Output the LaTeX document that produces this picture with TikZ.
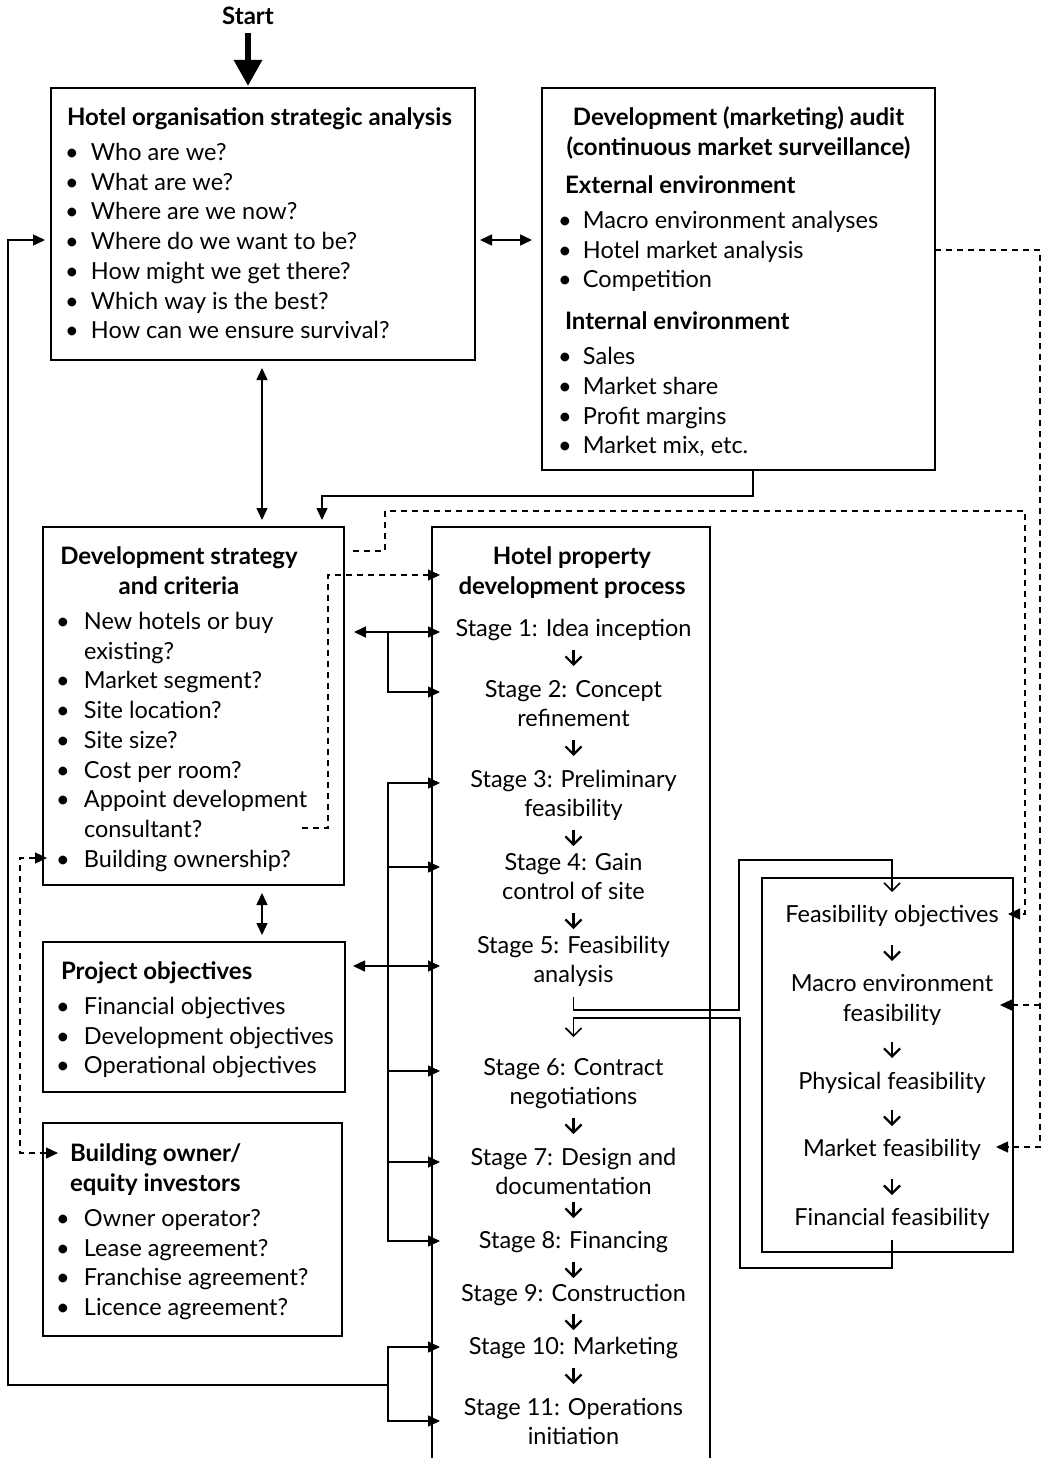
\documentclass[tikz,border=0pt]{standalone}
\usepackage{fontspec}
\setmainfont{Lato}
\usetikzlibrary{arrows.meta,calc}
\newcommand\bl[1][20pt]{\makebox[#1][l]{\makebox[0pt][c]{\textbullet}}}
\newcommand\st{\rule{0pt}{23pt}}
\begin{document}
\begin{tikzpicture}[x=1pt,y=-1pt,
 every node/.style={inner sep=0pt,outer sep=0pt,font=\fontsize{23.5}{29.7}\selectfont},
 bf/.style={font=\fontsize{24}{29.7}\selectfont\bfseries},
 bfw/.style={font=\fontsize{24}{30}\selectfont\bfseries},
 box/.style={draw,line width=1.8pt,anchor=north west},
 ln/.style={line width=1.5pt},
 tip/.style={ln,-{Triangle[length=12pt,width=11pt]}},
 dtip/.style={ln,{Triangle[length=12pt,width=11pt]}-{Triangle[length=12pt,width=11pt]}},
 dsh/.style={line width=1.3pt,dash pattern=on 6pt off 5pt},
 sarr/.style={line width=2.2pt,-{Straight Barb[length=8pt,width=16pt]}},
 toproc/.style={shorten >=-8pt},
 body/.style={align=left,anchor=north west},
 stg/.style={align=center,anchor=north,font=\fontsize{23.5}{29}\selectfont},
 fst/.style={align=center,anchor=north,font=\fontsize{23.5}{30}\selectfont},
]
\useasboundingbox (0,0) rectangle (1043,1458);
\fill[white] (0,0) rectangle (1043,1458);

% ---------- boxes ----------
\node[box,minimum width=424pt,minimum height=272pt] (b1) at (51,88) {};
\node[box,minimum width=393pt,minimum height=382pt] (b2) at (542,88) {};
\node[box,minimum width=301pt,minimum height=358pt] (b3) at (43,527) {};
\node[box,minimum width=302pt,minimum height=150pt] (b4) at (43,942) {};
\node[box,minimum width=299pt,minimum height=213pt] (b5) at (43,1123) {};
\node[box,minimum width=278pt,minimum height=960pt] (proc) at (432,527) {};
\node[box,minimum width=251pt,minimum height=374pt] (fbox) at (762,878) {};

% ---------- start ----------
\node[bf,anchor=base] (start) at (248,25) {Start};
\draw[line width=6pt,-{Triangle[length=26pt,width=27pt]},shorten >=2pt] (start.south) ++(0,8) -- (b1.north -| start.south);

% ---------- box 1 ----------
\node[bf,anchor=base west] (t1) at (67,125.5) {Hotel organisation strategic analysis};
\node[body] (c1) at (72,137.5) {\st\bl[19pt]Who are we?\\
\bl[19pt]What are we?\\
\bl[19pt]Where are we now?\\
\bl[19pt]Where do we want to be?\\
\bl[19pt]How might we get there?\\
\bl[19pt]Which way is the best?\\
\bl[19pt]How can we ensure survival?};

% ---------- box 2 ----------
\node[bfw,align=center,anchor=north] (t2) at (738.5,102.5) {\st Development (marketing) audit\\(continuous market surveillance)};
\node[body] (c2) at (565,170.5) {\st\textbf{\fontsize{24}{29.7}\selectfont External environment}\\[5.3pt]
\bl[18pt]Macro environment analyses\\
\bl[18pt]Hotel market analysis\\
\bl[18pt]Competition\\[12pt]
\textbf{\fontsize{24}{29.7}\selectfont Internal environment}\\[5.3pt]
\bl[18pt]Sales\\
\bl[18pt]Market share\\
\bl[18pt]Profit margins\\
\bl[18pt]Market mix, etc.};

% ---------- box 3 ----------
\node[bfw,align=center,anchor=north] (t3) at (179,541.5) {\st Development strategy\\and criteria};
\node[body] (c3) at (63,606.5) {\st\bl[21pt]New hotels or buy\\
\hspace*{21pt}existing?\\
\bl[21pt]Market segment?\\
\bl[21pt]Site location?\\
\bl[21pt]Site size?\\
\bl[21pt]Cost per room?\\
\bl[21pt]Appoint development\\
\hspace*{21pt}consultant?\\
\bl[21pt]Building ownership?};

% ---------- box 4 ----------
\node[bf,anchor=base west] (t4) at (61,979.5) {Project objectives};
\node[body] (c4) at (63,991.5) {\st\bl[21pt]Financial objectives\\
\bl[21pt]Development objectives\\
\bl[21pt]Operational objectives};

% ---------- box 5 ----------
\node[bfw,align=left,anchor=north west] (t5) at (70,1138.5) {\st Building owner/\\equity investors};
\node[body] (c5) at (63,1203.5) {\st\bl[21pt]Owner operator?\\
\bl[21pt]Lease agreement?\\
\bl[21pt]Franchise agreement?\\
\bl[21pt]Licence agreement?};

% ---------- process ----------
\node[bfw,align=center,anchor=north] (tp) at (572,541.5) {\st Hotel property\\development process};
\node[stg] (s1) at (573.5,613.5) {\st Stage 1: Idea inception};
\node[stg] (s2) at (573.5,674.5) {\st Stage 2: Concept\\refinement};
\node[stg] (s3) at (573.5,764.5) {\st Stage 3: Preliminary\\feasibility};
\node[stg] (s4) at (573.5,847.5) {\st Stage 4: Gain\\control of site};
\node[stg] (s5) at (573.5,930.5) {\st Stage 5: Feasibility\\analysis};
\node[stg] (s6) at (573.5,1052.5) {\st Stage 6: Contract\\negotiations};
\node[stg] (s7) at (573.5,1142.5) {\st Stage 7: Design and\\documentation};
\node[stg] (s8) at (573.5,1225.5) {\st Stage 8: Financing};
\node[stg] (s9) at (573.5,1278.5) {\st Stage 9: Construction};
\node[stg] (s10) at (573.5,1331.5) {\st Stage 10: Marketing};
\node[stg] (s11) at (573.5,1392.5) {\st Stage 11: Operations\\initiation};

\draw[sarr] (s1.north) ++(0,36.5) -- ++(0,16);
\draw[sarr] (s2.north) ++(0,65.5) -- ++(0,16);
\draw[sarr] (s3.north) ++(0,65.5) -- ++(0,16);
\draw[sarr] (s4.north) ++(0,65.5) -- ++(0,16);
\draw[sarr] (s6.north) ++(0,65.5) -- ++(0,16);
\draw[sarr] (s7.north) ++(0,59.5) -- ++(0,16);
\draw[sarr] (s8.north) ++(0,36.5) -- ++(0,16);
\draw[sarr] (s9.north) ++(0,35.5) -- ++(0,16);
\draw[sarr] (s10.north) ++(0,36.5) -- ++(0,16);

% ---------- feasibility ----------
\node[fst] (fobj) at (892,899.5) {\st Feasibility objectives};
\node[fst] (fmac) at (892,968.5) {\st Macro environment\\feasibility};
\node[fst] (fphy) at (892,1066.5) {\st Physical feasibility};
\node[fst] (fmkt) at (892,1133.5) {\st Market feasibility};
\node[fst] (ffin) at (892,1202.5) {\st Financial feasibility};

\draw[sarr] (fobj.north) ++(0,45.5) -- ++(0,16);
\draw[sarr] (fmac.north) ++(0,73.5) -- ++(0,16);
\draw[sarr] (fphy.north) ++(0,43.5) -- ++(0,16);
\draw[sarr] (fmkt.north) ++(0,45.5) -- ++(0,16);

% process <-> feasibility
\draw[sarr,line width=1.6pt,shorten >=7.5pt] (s5.north) ++(0,66.5) |- (739,1010) |- (fobj.north |- 0,860) -- (fobj.north);
\draw[sarr,line width=1.6pt,shorten >=15.5pt] (ffin.north) ++(0,37.5) |- (740,1268) |- (s6.north |- 0,1018) -- (s6.north);

% ---------- solid connectors ----------
\draw[dtip,shorten <=5pt,shorten >=10pt] (b1.east |- 0,240) -- (b2.west |- 0,240);
\draw[dtip,shorten <=8pt,shorten >=7pt] (b1.south -| 262,0) -- (b3.north -| 262,0);
\draw[dtip,shorten <=8pt,shorten >=7pt] (b3.south -| 262,0) -- (b4.north -| 262,0);
\draw[tip,shorten >=7pt] (b2.south -| 753,0) |- (322,496) -- (b3.north -| 322,0);

\coordinate (j1) at (388,632);
\coordinate (j2) at (388,966);
\coordinate (j3) at (388,1385);
\draw[dtip,shorten <=10pt,toproc] (b3.east |- j1) -- (proc.west |- j1);
\draw[tip,toproc] (j1) |- (proc.west |- 0,692);
\draw[dtip,shorten <=8pt,toproc] (b4.east |- j2) -- (proc.west |- j2);
\draw[tip,toproc] (j2) |- (proc.west |- 0,783);
\draw[tip,toproc] (j2) |- (proc.west |- 0,867);
\draw[tip,toproc] (j2) |- (proc.west |- 0,1071);
\draw[tip,toproc] (j2) |- (proc.west |- 0,1162);
\draw[tip,toproc] (j2) |- (proc.west |- 0,1241);
\draw[tip,shorten >=6pt] (j3) -| (8,240) -- (b1.west |- 0,240);
\draw[tip,toproc] (j3) |- (proc.west |- 0,1347);
\draw[tip,toproc] (j3) |- (proc.west |- 0,1421);

% ---------- dashed connectors ----------
\draw[dsh,-{Triangle[length=12pt,width=11pt]},shorten <=9pt,shorten >=-5pt] (b3.east |- 0,551) -| (385,511) -| (1025,914) -- (fbox.east |- 0,914);
\coordinate (dc) at (302,828);
\draw[dsh,-{Triangle[length=12pt,width=11pt]},toproc] (dc) -| (328,575) -- (proc.west |- 0,575);
\coordinate (jd) at (1040,1005);
\draw[dsh,-{Triangle[length=12pt,width=11pt]},shorten >=-17pt] (b2.east |- 0,250) -| (1040,1147) -- (fbox.east |- 0,1147);
\draw[dsh,-{Triangle[length=12pt,width=11pt]},shorten >=-13pt] (jd) -- (fbox.east |- jd);
\draw[dsh,{Triangle[length=12pt,width=11pt]}-{Triangle[length=12pt,width=11pt]},shorten <=-4pt,shorten >=-15pt] (b3.west |- 0,858) -| (20,1153) -- (b5.west |- 0,1153);
\end{tikzpicture}
\end{document}
